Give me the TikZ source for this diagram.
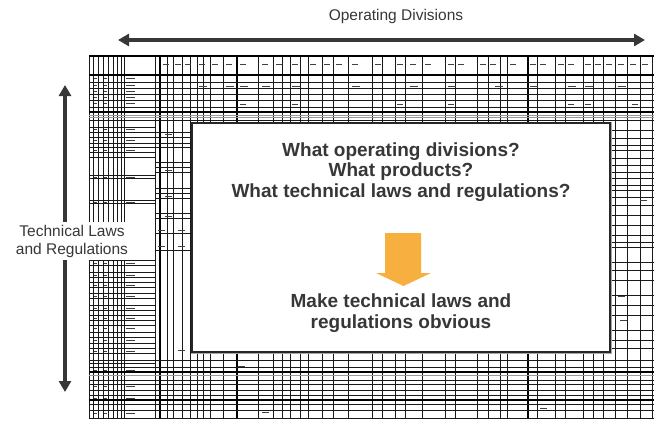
\documentclass[tikz,border=0pt]{standalone}
\usepackage{fontspec}
\setmainfont{Liberation Sans}
\usepackage{tikz}
\usetikzlibrary{arrows.meta}
\definecolor{textgrey}{RGB}{55,55,55}
\definecolor{arroworange}{RGB}{247,176,64}

\begin{document}
\begin{tikzpicture}[x=1pt, y=-1pt,
    gridline/.style={black!90, line width=0.5pt},
    boldgrid/.style={black, line width=1.1pt},
    greygrid/.style={black!40, line width=0.9pt},
    cellmark/.style={black!75, line width=1pt},
    bigarrow/.style={textgrey, line width=3.5pt, {Triangle[length=11pt,width=12pt]}-{Triangle[length=11pt,width=12pt]}},
    sidelabel/.style={text=textgrey, font=\fontsize{15.5}{18}\selectfont, align=center},
    question/.style={text=textgrey, font=\fontsize{19}{20.5}\selectfont\bfseries, align=center}]
    \useasboundingbox (0,0) rectangle (654,421);

    \begin{scope}
    \clip (88,55) rectangle (654,419);
    \foreach \x in {89,93,98,103,108,113,117,121,124,155,167,173,182,190,197,203,210,223,258,273,282,290,300,308,322,333,348,372,382,395,405,422,445,455,477,488,500,507,537,555,565,583,593,603,615,627,640,652}
        \draw[gridline] (\x,56) -- (\x,419) ;
    \foreach \x in {160,237,528}
        \draw[boldgrid] (\x,56) -- (\x,419) ;
    \foreach \y in {82,88,94,100,107,120,360,367,380,384,390,395,404,410,418}
        \draw[gridline] (89,\y) -- (654,\y) ;
    \foreach \y in {56,75,112,372,400}
        \draw[boldgrid] (89,\y) -- (654,\y) ;
    \foreach \y in {115,117,375}
        \draw[greygrid] (89,\y) -- (654,\y) ;
    \foreach \y in {127,132,137,143,147,152,157,175,178,200,203,260,265,272,277,282,287,293,298,305,310,315,320,325,332,337,343,348,353,363}
        \draw[gridline] (89,\y) -- (155,\y) ;
    \foreach \y in {132,137,143,147,162,167,172,188,193,198,213,218,233,250}
        \draw[gridline] (155,\y) -- (190,\y) ;
    \foreach \y in {130,138,145,150,158,165,172,178,185,190,197,205,215,225,235,242,247,262,270,280,295,305,315,330,340,348}
        \draw[gridline] (603,\y) -- (654,\y) ;
    \foreach \x in {163,175,185,199,212,226,240,262,276,292,310,324,336,352,375,397,410,425,448,458,480,490,510,530,540,558,568,585,595,606,618,630,642}
        \draw[cellmark] (\x,64) -- ++(6,0) ;
    \foreach \x in {199,226,240,262,292,352,410,448,495,530,568,585,618}
        \draw[cellmark] (\x,86) -- ++(8,0) ;
    \foreach \x in {240,292,397,448,568,585,632}
        \draw[cellmark] (\x,104) -- ++(6,0) ;
    \foreach \y in {78,85,91,97,103,129,140,150,177,202,263,275,285,296,308,318,328,340,351,370,386,398,413}
        \draw[cellmark] (94,\y) -- ++(3,0) (104,\y) -- ++(3,0) (126,\y) -- ++(9,0) ;
    \foreach \x/\y in {165/134,165/170,165/196,165/216,158/230,178/230,158/246,178/246,178/350,238/366,262/412,540/408,618/296,620/320,640/200}
        \draw[cellmark] (\x,\y) -- ++(7,0) ;
    \end{scope}

    \fill[black!35] (190.5,121.5) rectangle (611.5,353.5) ;
    \filldraw[fill=white, draw=black!85, line width=1.2pt] (192,123) rectangle (610,352) ;

    \coordinate (od-left) at (118,40) ;
    \coordinate (od-right) at (645,40) ;
    \coordinate (tl-top) at (65,85) ;
    \coordinate (tl-bottom) at (65,392) ;
    \draw[bigarrow] (od-left) -- (od-right) ;
    \draw[bigarrow] (tl-top) -- (tl-bottom) ;

    \node[sidelabel] (divisions) at (396,16) {Operating Divisions} ;
    \node[sidelabel, fill=white, inner sep=3pt] (laws) at (72,241) {Technical Laws\\and Regulations} ;

    \node[question] (ask) at (401,172) {What operating divisions?\\What products?\\What technical laws and regulations?} ;
    \fill[arroworange] (385,233) -- (421,233) -- (421,273) -- (431,273) -- (403.5,286) -- (376,273) -- (385,273) -- cycle ;
    \node[question] (goal) at (401,313) {Make technical laws and\\regulations obvious} ;
\end{tikzpicture}
\end{document}
